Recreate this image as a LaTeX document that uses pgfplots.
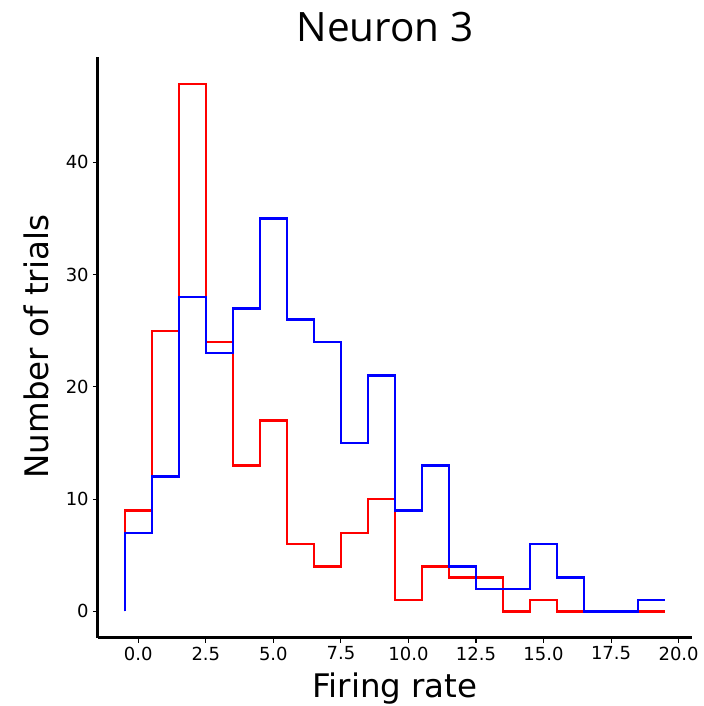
\documentclass[border=0pt]{standalone}
\usepackage{pgfplots}
\pgfplotsset{compat=1.18}
\usepackage{fontspec}
\setmainfont{DejaVu Sans}
\newfontfamily\titlefont{Open Sans}
\begin{document}
\begin{tikzpicture}
\begin{axis}[
  scale only axis,
  width=594.7pt, height=580.6pt,
  xmin=-1.5, xmax=20.5, ymin=-2.35, ymax=49.35,
  axis x line*=bottom, axis y line*=left,
  axis line style={line width=3.5pt, -, black},
  xtick={0,2.5,5,7.5,10,12.5,15,17.5,20},
  ytick={0,10,20,30,40},
  tick align=outside,
  major tick length=4.9pt,
  tick style={line width=1.1pt, black},
  /pgf/number format/assume math mode=true,
  x tick label style={font=\fontsize{18}{21.6}\selectfont, inner sep=0pt, yshift=-4pt,
     /pgf/number format/.cd, fixed, fixed zerofill, precision=1},
  y tick label style={font=\fontsize{18}{21.6}\selectfont, inner sep=0pt, xshift=-4pt},
  clip=false,
]
\addplot[red, line width=2.5pt, const plot mark right] coordinates {
(-0.5,0) (0.5,9) (1.5,25) (2.5,47) (3.5,24) (4.5,13) (5.5,17) (6.5,6) (7.5,4) (8.5,7)
(9.5,10) (10.5,1) (11.5,4) (12.5,3) (13.5,3) (14.5,0) (15.5,1) (16.5,0) (17.5,0) (18.5,0) (19.5,0)
};
\addplot[blue, line width=2.5pt, const plot mark right] coordinates {
(-0.5,0) (0.5,7) (1.5,12) (2.5,28) (3.5,23) (4.5,27) (5.5,35) (6.5,26) (7.5,24) (8.5,15)
(9.5,21) (10.5,9) (11.5,13) (12.5,4) (13.5,2) (14.5,2) (15.5,6) (16.5,3) (17.5,0) (18.5,0) (19.5,1)
};
\end{axis}
\node[anchor=base, font=\fontsize{32.5}{39}\selectfont] at ([yshift=-59.6pt]current axis.south) {Firing rate};
\node[anchor=base, rotate=90, font=\fontsize{32.5}{39}\selectfont] at ([xshift=-48.8pt,yshift=1pt]current axis.west) {Number of trials};
\node[anchor=base, font=\titlefont\fontsize{40.5}{48}\selectfont] at ([yshift=15.5pt,xshift=-10pt]current axis.north) {Neuron 3};
\pgfresetboundingbox
\path ([shift={(-97.8pt,-68.3pt)}]current axis.south west) rectangle ([shift={(11.6pt,57.5pt)}]current axis.north east);
\end{tikzpicture}
\end{document}
